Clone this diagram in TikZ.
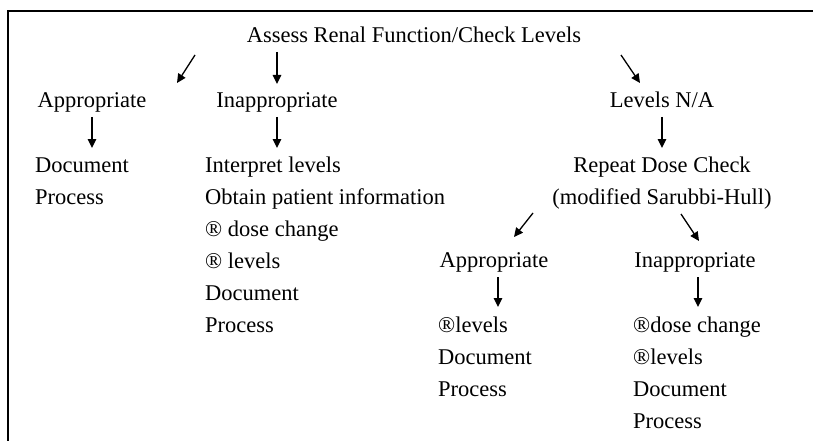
\documentclass[tikz,border=0pt]{standalone}
\usepackage{fontspec}
\setmainfont{Liberation Serif}
\usetikzlibrary{arrows.meta}
\begin{document}
\begin{tikzpicture}[x=1pt,y=-1pt,
  txt/.style={inner sep=0pt,font=\fontsize{22.5}{26}\selectfont},
  ctr/.style={txt,anchor=base},
  lft/.style={txt,anchor=base west},
  arr/.style={line width=1.3pt,-{Triangle[width=8.5pt,length=9pt]}},
  frame/.style={line width=2pt}]
\useasboundingbox (0,0) rectangle (813,441);
\coordinate (fb) at (8,441);
\coordinate (fc) at (8,11);
\coordinate (fr) at (813,11);
\draw[frame] (fb) -- (fc) -- (fr);

\node[ctr] (head) at (414,43) {Assess Renal Function/Check Levels};
\node[ctr] (app) at (92,107) {Appropriate};
\node[ctr] (inapp) at (277,107) {Inappropriate};
\node[ctr] (na) at (662,107) {Levels N/A};

\node[lft] (doc1) at (35,172) {Document};
\node[lft] (proc1) at (35,204) {Process};

\node[lft] (m1) at (205,172) {Interpret levels};
\node[lft] (m2) at (205,204) {Obtain patient information};
\node[lft] (m3) at (205,236) {® dose change};
\node[lft] (m4) at (205,268) {® levels};
\node[lft] (m5) at (205,300) {Document};
\node[lft] (m6) at (205,332) {Process};

\node[ctr] (rep) at (662,172) {Repeat Dose Check};
\node[ctr] (mod) at (662,204) {(modified Sarubbi-Hull)};

\node[ctr] (app2) at (494,267) {Appropriate};
\node[ctr] (inapp2) at (695,267) {Inappropriate};

\node[lft] (l1) at (438,332) {®levels};
\node[lft] (l2) at (438,364) {Document};
\node[lft] (l3) at (438,396) {Process};

\node[lft] (r1) at (633,332) {®dose change};
\node[lft] (r2) at (633,364) {®levels};
\node[lft] (r3) at (633,396) {Document};
\node[lft] (r4) at (633,428) {Process};

\coordinate (a1s) at (195,55); \coordinate (a1e) at (177,83);
\coordinate (a2s) at (277,52); \coordinate (a2e) at (277,84);
\coordinate (a3s) at (621,55); \coordinate (a3e) at (640,83);
\coordinate (b1s) at (92,117); \coordinate (b1e) at (92,148);
\coordinate (b2s) at (277,117); \coordinate (b2e) at (277,148);
\coordinate (b3s) at (662,117); \coordinate (b3e) at (662,148);
\coordinate (c1s) at (533,213); \coordinate (c1e) at (514,237);
\coordinate (c2s) at (681,214); \coordinate (c2e) at (699,241);
\coordinate (d1s) at (498,277); \coordinate (d1e) at (498,307);
\coordinate (d2s) at (698,277); \coordinate (d2e) at (698,307);

\draw[arr] (a1s) -- (a1e);
\draw[arr] (a2s) -- (a2e);
\draw[arr] (a3s) -- (a3e);
\draw[arr] (b1s) -- (b1e);
\draw[arr] (b2s) -- (b2e);
\draw[arr] (b3s) -- (b3e);
\draw[arr] (c1s) -- (c1e);
\draw[arr] (c2s) -- (c2e);
\draw[arr] (d1s) -- (d1e);
\draw[arr] (d2s) -- (d2e);
\end{tikzpicture}
\end{document}
